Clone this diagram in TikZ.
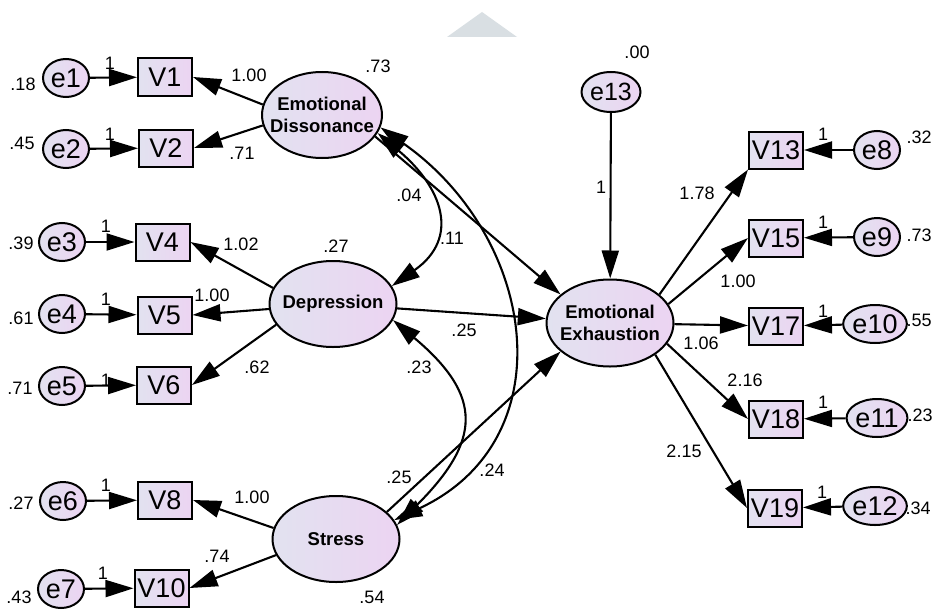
\documentclass[tikz,border=0pt]{standalone}
\usepackage{fontspec}
\setmainfont{Liberation Sans}
\usetikzlibrary{arrows.meta,shapes.geometric}
\definecolor{nodeL}{RGB}{226,226,240}
\definecolor{nodeR}{RGB}{236,212,242}
\definecolor{tri}{RGB}{217,223,227}
\tikzset{
 base/.style={draw=black, line width=2pt, left color=nodeL, right color=nodeR, inner sep=0pt},
 errc/.style={base, ellipse, minimum width=46pt, minimum height=38pt, font=\fontsize{27}{27}\selectfont},
 obs/.style={base, rectangle, minimum width=54pt, minimum height=37pt, font=\fontsize{27}{27}\selectfont},
 lat/.style={base, ellipse, inner xsep=-15pt, minimum width=127pt, minimum height=86pt, font=\fontsize{18.5}{22}\selectfont\bfseries, align=center},
 arr/.style={line width=2.1pt, -{Triangle[length=28pt,width=17pt]}},
 cov/.style={line width=2.1pt, {Triangle[length=28pt,width=17pt]}-{Triangle[length=28pt,width=17pt]}},
 lbl/.style={font=\fontsize{18}{18}\selectfont, inner sep=0pt},
}
\begin{document}
\begin{tikzpicture}[x=1pt,y=1pt]
\useasboundingbox (0,0) rectangle (936,-610);
\fill[white] (0,0) rectangle (936,-610);
\fill[tri] (447,-37) -- (517,-37) -- (482,-12) -- cycle;

% latent variables
\node[lat, minimum width=120pt] (ED) at (322,-115) {Emotional\\Dissonance};
\node[lat] (Dep) at (333,-304) {Depression};
\node[lat] (Str) at (336,-539) {Stress};
\node[lat, minimum height=87pt] (EE) at (610,-323) {Emotional\\Exhaustion};

% observed left
\node[obs] (V1) at (165,-77) {V1};
\node[obs] (V2) at (166,-148) {V2};
\node[obs] (V4) at (162.5,-242) {V4};
\node[obs] (V5) at (164.5,-315) {V5};
\node[obs] (V6) at (164,-385) {V6};
\node[obs] (V8) at (165,-500) {V8};
\node[obs] (V10) at (161.5,-588) {V10};
% observed right
\node[obs] (V13) at (776,-150) {V13};
\node[obs] (V15) at (776,-238) {V15};
\node[obs] (V17) at (776,-326) {V17};
\node[obs] (V18) at (776,-419) {V18};
\node[obs] (V19) at (775,-508) {V19};

% errors
\node[errc] (e1) at (66,-78) {e1};
\node[errc] (e2) at (66,-149) {e2};
\node[errc] (e3) at (62,-242) {e3};
\node[errc] (e4) at (62,-314) {e4};
\node[errc] (e5) at (62,-386) {e5};
\node[errc] (e6) at (63,-501) {e6};
\node[errc] (e7) at (61,-589) {e7};
\node[errc] (e8) at (877,-150) {e8};
\node[errc] (e9) at (877,-237) {e9};
\node[errc] (e10) at (875,-324) {e10};
\node[errc] (e11) at (877,-418) {e11};
\node[errc] (e12) at (875,-506) {e12};
\node[errc, minimum width=57pt, minimum height=40pt, font=\fontsize{25}{25}\selectfont] (e13) at (611,-92) {e13};

% error arrows
\foreach \e/\v in {e1/V1,e2/V2,e3/V4,e4/V5,e5/V6,e6/V8,e7/V10,e8/V13,e9/V15,e10/V17,e11/V18,e12/V19}
  \draw[arr] (\e) -- (\v);
\draw[arr] (e13) -- (EE);

% loadings
\draw[arr] (ED.170) -- (V1.east);
\draw[arr] (ED.190) -- (V2.east);
\draw[arr] (Dep.165) -- (V4.east);
\draw[arr] (Dep) -- (V5.east);
\draw[arr] (Dep.200) -- (V6.east);
\draw[arr] (Str.170) -- (V8.east);
\draw[arr] (Str.195) -- (V10.east);
\draw[arr] (EE.30) -- (V13.south west);
\draw[arr] (EE.18) -- (V15.west);
\draw[arr] (EE) -- (V17);
\draw[arr] (EE.-20) -- (V18.west);
\draw[arr] (EE.-35) -- (V19.west);

% structural paths
\draw[arr] (ED.-22) -- (EE.150);
\draw[arr] (Dep) -- (EE);
\draw[arr] (Str.28) -- (EE.-150);

% covariances
\draw[cov] (ED.-18) to[out=-40,in=35,looseness=1.4] (Dep.17);
\draw[cov] (ED.-12) to[out=-35,in=25,looseness=1.24] (Str.18);
\draw[cov] (Dep.-15) to[out=-40,in=45,looseness=1.48] (Str.13);

% labels
\node[lbl] (l1) at (23,-84) {.18};
\node[lbl] (l2) at (22,-143) {.45};
\node[lbl] (l3) at (21,-243) {.39};
\node[lbl] (l4) at (21,-318) {.61};
\node[lbl] (l5) at (20,-388) {.71};
\node[lbl] (l6) at (21,-503) {.27};
\node[lbl] (l7) at (19,-597) {.43};
\node[lbl] (o1) at (110,-63) {1};
\node[lbl] (o2) at (110,-134) {1};
\node[lbl] (o3) at (106,-226) {1};
\node[lbl] (o4) at (106,-299) {1};
\node[lbl] (o5) at (106,-380) {1};
\node[lbl] (o6) at (106,-485) {1};
\node[lbl] (o7) at (103,-573) {1};
\node[lbl] (o8) at (823,-134) {1};
\node[lbl] (o9) at (823,-222) {1};
\node[lbl] (o10) at (823,-311) {1};
\node[lbl] (o11) at (823,-402) {1};
\node[lbl] (o12) at (822,-492) {1};
\node[lbl] (o13) at (601,-187) {1};
\node[lbl] (r8) at (919,-137) {.32};
\node[lbl] (r9) at (919,-235) {.73};
\node[lbl] (r10) at (919,-320) {.55};
\node[lbl] (r11) at (920,-415) {.23};
\node[lbl] (r12) at (918,-508) {.34};
\node[lbl] (r13) at (637,-52) {.00};
\node[lbl] (vED) at (378,-66) {.73};
\node[lbl] (vDep) at (336,-246) {.27};
\node[lbl] (vStr) at (372,-597) {.54};
\node[lbl] (w1) at (249,-75) {1.00};
\node[lbl] (w2) at (242,-153) {.71};
\node[lbl] (w4) at (241,-244) {1.02};
\node[lbl] (w5) at (212,-295) {1.00};
\node[lbl] (w6) at (257,-367) {.62};
\node[lbl] (w8) at (252,-497) {1.00};
\node[lbl] (w10) at (217,-556) {.74};
\node[lbl] (w13) at (697,-193) {1.78};
\node[lbl] (w15) at (738,-281) {1.00};
\node[lbl] (w17) at (701,-343) {1.06};
\node[lbl] (w18) at (745,-380) {2.16};
\node[lbl] (w19) at (684,-451) {2.15};
\node[lbl] (c1) at (409,-195) {.04};
\node[lbl] (c2) at (452,-238) {.11};
\node[lbl] (c3) at (464,-330) {.25};
\node[lbl] (c4) at (419,-367) {.23};
\node[lbl] (c5) at (399,-477) {.25};
\node[lbl] (c6) at (492,-470) {.24};
\end{tikzpicture}
\end{document}
